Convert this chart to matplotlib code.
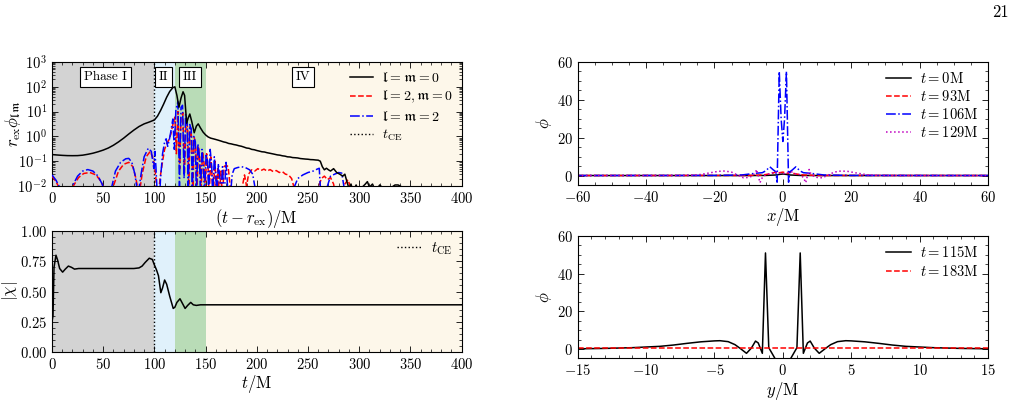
import matplotlib
matplotlib.use("Agg")
import matplotlib.pyplot as plt
from matplotlib.ticker import MultipleLocator

plt.rcParams['font.family'] = 'serif'
plt.rcParams['font.serif'] = ['cmr10']
plt.rcParams['mathtext.fontset'] = 'cm'
plt.rcParams['axes.formatter.use_mathtext'] = True
plt.rcParams['font.size'] = 10
plt.rcParams['xtick.direction'] = 'in'
plt.rcParams['ytick.direction'] = 'in'
plt.rcParams['xtick.top'] = True
plt.rcParams['ytick.right'] = True
plt.rcParams['axes.unicode_minus'] = True

# --- multipole amplitudes (top left) ---
t_00 = [0, 5, 10, 15, 20, 25, 30, 35, 40, 45, 50, 55, 60, 65, 70, 75, 80, 85, 90, 95,
        100, 103, 106, 109, 112, 115, 118, 120, 122, 124, 126, 128, 129.5, 131.5, 133, 134.6,
        136.5, 138.9, 141, 142.8, 145, 147.5, 150, 152.5, 155, 157.5, 160, 162.5, 165, 167.5,
        170, 172.5, 175, 177.5, 180, 182.5, 185, 187.5, 190, 192.5, 195, 197.5, 200, 202.5,
        205, 207.5, 210, 212.5, 215, 217.5, 220, 222.5, 225, 227.5, 230, 232.5, 235, 237.5,
        240, 242.5, 245, 247.5, 250, 252.5, 255, 257.5, 260, 262, 264, 266, 268, 270, 272,
        275, 278, 281, 284, 286, 288, 290, 292, 294, 297, 300, 303, 306, 308, 310, 313, 316,
        320, 325, 330, 335, 338, 342, 345]
phi_00 = [0.185, 0.178, 0.172, 0.168, 0.167, 0.168, 0.175, 0.19, 0.21, 0.24, 0.28, 0.34,
          0.44, 0.6, 0.85, 1.25, 1.8, 2.5, 3.2, 3.8,
          4.6, 6.5, 11, 20, 38, 65, 92, 100, 45, 15, 35, 63, 45, 3.4, 5.5, 8.0,
          4.0, 1.4, 2.6, 3.2, 2.2, 1.5, 1.15, 0.95, 0.85, 0.8, 0.75, 0.7, 0.65, 0.6,
          0.57, 0.52, 0.5, 0.47, 0.45, 0.42, 0.4, 0.37, 0.34, 0.33, 0.3, 0.29, 0.27, 0.255,
          0.24, 0.235, 0.22, 0.21, 0.2, 0.19, 0.18, 0.175, 0.165, 0.16, 0.15, 0.148, 0.14, 0.138,
          0.135, 0.128, 0.125, 0.122, 0.12, 0.116, 0.115, 0.112, 0.11, 0.1, 0.06, 0.045, 0.052, 0.045, 0.04,
          0.05, 0.035, 0.03, 0.025, 0.03, 0.015, 0.008, 0.012, 0.006, 0.011, 0.005, 0.009, 0.012, 0.015, 0.009, 0.012, 0.006,
          0.011, 0.007, 0.008, 0.011, 0.011, 0.009, 0.005]

t_20 = [0, 4, 8, 12, 18, 22, 26, 31, 37, 43, 48, 52, 56, 60, 65, 70, 75, 79, 82, 85, 88,
        92, 96, 99, 100.5, 101.5, 102.5, 104, 105.5, 108, 110, 112, 114, 116, 118, 120,
        121.5, 123, 124.7, 126, 127.8, 129.3, 131, 132.5, 133.5, 135, 136.5, 137.5, 139,
        140.5, 141.5, 143, 144.5, 145.5, 147, 148.5, 149.5, 151, 152.5, 153.5, 155, 156.5,
        157.5, 159, 160.5, 162, 163.5, 165, 166.5, 168, 170, 172, 174, 175, 178, 180, 183,
        186, 188, 190, 192, 195, 198, 201, 204, 207, 210, 213, 216, 219, 222, 225, 228, 231,
        234, 236, 238, 255, 260, 263, 266, 269, 272, 275, 277, 283, 286, 289, 292, 294]
phi_20 = [0.025, 0.015, 0.007, 0.003, 0.006, 0.012, 0.022, 0.032, 0.035, 0.028, 0.015, 0.006,
          0.003, 0.01, 0.04, 0.075, 0.09, 0.06, 0.02, 0.004, 0.03,
          0.15, 0.25, 0.12, 0.05, 0.02, 0.004, 0.004, 0.02, 0.1, 0.3, 0.5, 0.7, 1.2, 3, 6,
          0.2, 10, 0.05, 6, 9, 0.03, 5, 2, 0.01, 2.5, 0.8, 0.006, 0.9,
          0.3, 0.005, 0.4, 0.1, 0.005, 0.25, 0.08, 0.004, 0.2, 0.05, 0.003, 0.15, 0.02,
          0.003, 0.1, 0.01, 0.05, 0.003, 0.04, 0.003, 0.06, 0.07, 0.06, 0.01, 0.003, 0.003, 0.006, 0.003,
          0.01, 0.028, 0.01, 0.03, 0.045, 0.04, 0.05, 0.042, 0.048, 0.04, 0.046, 0.038, 0.042, 0.035, 0.038, 0.03, 0.028,
          0.02, 0.01, 0.003, 0.003, 0.008, 0.02, 0.025, 0.018, 0.022, 0.012, 0.004, 0.004, 0.012, 0.018, 0.008, 0.003]

t_22 = [0, 4, 8, 12, 16, 20, 25, 30, 35, 40, 45, 49, 52, 55, 58, 62, 67, 72, 75, 78, 81, 84,
        87, 90, 94, 97, 99.5, 100.5, 101.5, 103, 105, 106, 108, 110, 111.5, 113, 114.5, 116, 118,
        119.5, 121, 123, 124.5, 126, 127.5, 129, 130.5, 132, 133, 134.5, 136, 137, 138.5, 140,
        141, 142.5, 144, 145, 146.5, 148, 149, 150.5, 152, 153, 154.5, 156, 157, 158.5, 160,
        161, 162.5, 164, 165, 166.5, 168, 170, 172, 174, 176, 178, 181, 185, 189, 193, 196, 198,
        199, 235, 237, 240, 245, 250, 255, 259, 261, 262, 263, 267, 269, 272, 276, 280, 283, 285, 286, 300]
phi_22 = [0.028, 0.017, 0.008, 0.003, 0.004, 0.01, 0.025, 0.04, 0.046, 0.04, 0.025, 0.012,
          0.005, 0.003, 0.008, 0.04, 0.09, 0.125, 0.13, 0.09, 0.03, 0.004,
          0.03, 0.15, 0.33, 0.25, 0.05, 0.25, 0.06, 0.003, 0.003, 0.02, 0.2, 0.6, 0.8, 0.4, 0.7, 1.5, 5,
          0.3, 12, 25, 0.01, 15, 18, 0.02, 8, 4, 0.005, 3, 2, 0.005, 1, 0.6,
          0.004, 0.5, 0.15, 0.004, 0.3, 0.05, 0.003, 0.2, 0.1, 0.004, 0.3, 0.06, 0.003, 0.15, 0.03,
          0.003, 0.08, 0.02, 0.003, 0.06, 0.003, 0.09, 0.004, 0.003, 0.03, 0.05, 0.055, 0.06, 0.055, 0.045, 0.03, 0.01,
          0.003, 0.003, 0.01, 0.02, 0.028, 0.035, 0.04, 0.048, 0.052, 0.01, 0.003, 0.003, 0.01, 0.025, 0.03, 0.035, 0.033, 0.01, 0.003, 0.003]

# --- spin magnitude (bottom left) ---
t_chi = [0, 1, 2, 3.9, 5.5, 7.5, 10.4, 13, 16, 19, 22, 26, 30, 40, 50, 60, 70, 80, 85, 88, 91,
         95, 98, 100, 102, 104, 106.3, 108, 110, 112, 115, 118.4, 120, 122, 125, 127.5, 130,
         132.5, 135.5, 138, 141, 145, 150, 200, 300, 400]
chi = [0.25, 0.3, 0.7, 0.80, 0.76, 0.69, 0.66, 0.685, 0.71, 0.70, 0.685, 0.69, 0.69, 0.69,
       0.69, 0.69, 0.69, 0.69, 0.695, 0.71, 0.74, 0.775, 0.765, 0.72, 0.68, 0.63, 0.49, 0.53,
       0.595, 0.56, 0.46, 0.36, 0.37, 0.41, 0.44, 0.40, 0.36, 0.385, 0.41, 0.39, 0.385, 0.39,
       0.39, 0.39, 0.39, 0.39]

# phases
phase_edges = [0, 100, 120, 150, 400]
phase_colors = ['#d3d3d3', '#e0f1fb', '#b9dcb7', '#fdf7ea']
phase_names = ['Phase I', 'II', 'III', 'IV']
phase_label_x = [52, 109, 135, 245]
t_ce = 100

# --- profiles along x (top right) ---
x_t0 = [-60, -10, -5, -2, -1, 0, 1, 2, 5, 10, 60]
phi_t0 = [0, 0, 0.05, 0.3, 0.6, 0.8, 0.6, 0.3, 0.05, 0, 0]
x_t93 = [-60, -10, -6, -4, -3, -2, -1.5, -1, 0, 1, 1.5, 2, 3, 4, 6, 10, 60]
phi_t93 = [0, 0.05, 0.3, 0.8, 1.2, 2.0, 1.0, 1.5, 1.8, 1.5, 1.0, 2.0, 1.2, 0.8, 0.3, 0.05, 0]
x_t106 = [-60, -20, -12, -8, -6, -5, -3.8, -2.8, -2.05, -1.67, -1.05, -0.5, 0, 0.5, 1.05,
          1.67, 2.05, 2.8, 3.8, 5, 6, 8, 12, 20, 60]
phi_t106 = [0, 0.05, 0.3, 1.2, 1.5, 2.5, 4.6, 3.0, 2.0, -3.5, 55, 30, 18, 30, 55,
            -3.5, 2.0, 3.0, 4.6, 2.5, 1.5, 1.2, 0.3, 0.05, 0]
x_t129 = [-60, -30, -25, -22, -19, -17, -15, -13, -11.5, -10, -9, -8, -7.7, -7.2, -6.7, -6,
          -5, -3.5, -2.5, -1, 0, 1, 2.5, 3.5, 5, 6, 6.7, 7.2, 7.7, 8, 9, 10, 11.5, 13, 15, 17,
          19, 22, 25, 30, 60]
phi_t129 = [0, 0.05, 0.3, 1.2, 2.2, 2.4, 1.8, 0, -1.2, -1.0, -0.3, 1.5, 3.2, 0, -3.8, -1,
            0.5, 1.0, 2.0, 1.2, 1.0, 1.2, 2.0, 1.0, 0.5, -1, -3.8, 0, 3.2, 1.5, -0.3, -1.0,
            -1.2, 0, 1.8, 2.4, 2.2, 1.2, 0.3, 0.05, 0]

# --- profiles along y (bottom right) ---
y_t115 = [-15, -13, -11, -9, -8, -7, -6, -5, -4.6, -4, -3.5, -3.1, -2.66, -2.3, -2.0, -1.8,
          -1.5, -1.27, -1.03, -0.5, 0, 0.5, 1.03, 1.27, 1.5, 1.8, 2.0, 2.3, 2.66, 3.1, 3.5, 4,
          4.6, 5, 6, 7, 8, 9, 11, 13, 15]
phi_t115 = [0.1, 0.3, 0.7, 1.4, 2.1, 3.0, 3.8, 4.3, 4.4, 3.9, 2.3, 0.2, -2.3, 0.5, 4.2, 3.2,
            -2.3, 51, 0.7, -6, -9, -6, 0.7, 51, -2.3, 3.2, 4.2, 0.5, -2.3, 0.2, 2.3, 3.9,
            4.4, 4.3, 3.8, 3.0, 2.1, 1.4, 0.7, 0.3, 0.1]
y_t183 = [-15, 15]
phi_t183 = [0.3, 0.3]

fig = plt.figure(figsize=(10.19, 4.0), dpi=100)

ax1 = fig.add_axes([0.051, 0.535, 0.402, 0.31])
ax2 = fig.add_axes([0.051, 0.12, 0.402, 0.3025])
ax3 = fig.add_axes([0.567, 0.5375, 0.4025, 0.3075])
ax4 = fig.add_axes([0.567, 0.104, 0.4025, 0.306])

for ax in (ax1, ax2):
    for i in range(4):
        ax.axvspan(phase_edges[i], phase_edges[i + 1], color=phase_colors[i], lw=0, zorder=0)

leg_kw = dict(loc='upper right', frameon=False, handlelength=1.7,
              handletextpad=0.6, borderaxespad=0.25)

# top left
ax1.plot(t_00, phi_00, color='k', lw=1.1, label=r'$\mathfrak{l}=\mathfrak{m}=0$', zorder=4)
ax1.plot(t_20, phi_20, color='r', ls='--', lw=1.1, label=r'$\mathfrak{l}=2,\mathfrak{m}=0$', zorder=3)
ax1.plot(t_22, phi_22, color='b', ls='-.', lw=1.1, label=r'$\mathfrak{l}=\mathfrak{m}=2$', zorder=3)
ax1.axvline(t_ce, color='k', ls=':', lw=1, label=r'$t_{\rm CE}$', zorder=2)
ax1.set_yscale('log')
ax1.set_xlim(0, 400)
ax1.set_ylim(1e-2, 1e3)
ax1.xaxis.set_major_locator(MultipleLocator(50))
ax1.xaxis.set_minor_locator(MultipleLocator(10))
ax1.set_xlabel(r'$(t-r_{\rm ex})/\mathrm{M}$', fontsize=12, labelpad=1)
ax1.set_ylabel(r'$r_{\rm ex}\phi_{\mathfrak{lm}}$', fontsize=12)
ax1.yaxis.set_label_coords(-0.071, 0.5)
for name, xp in zip(phase_names, phase_label_x):
    ax1.text(xp, 0.88, name, transform=ax1.get_xaxis_transform(), ha='center', va='center',
             fontsize=9.5, bbox=dict(boxstyle='square,pad=0.3', fc='white', ec='k', lw=0.8), zorder=5)
ax1.legend(fontsize=10, labelspacing=0.3, **leg_kw)

# bottom left
ax2.plot(t_chi, chi, color='k', lw=1.1)
ax2.axvline(t_ce, color='k', ls=':', lw=1, label=r'$t_{\rm CE}$')
ax2.set_xlim(0, 400)
ax2.set_ylim(0, 1)
ax2.xaxis.set_major_locator(MultipleLocator(50))
ax2.xaxis.set_minor_locator(MultipleLocator(10))
ax2.yaxis.set_major_locator(MultipleLocator(0.25))
ax2.yaxis.set_minor_locator(MultipleLocator(0.05))
ax2.set_xlabel(r'$t/\mathrm{M}$', fontsize=12, labelpad=1)
ax2.set_ylabel(r'$|\chi|$', fontsize=12)
ax2.yaxis.set_label_coords(-0.078, 0.5)
ax2.legend(fontsize=10.5, **leg_kw)

# top right
ax3.plot(x_t0, phi_t0, color='k', lw=1.1, label=r'$t=0\mathrm{M}$')
ax3.plot(x_t93, phi_t93, color='r', ls='--', lw=1.1, label=r'$t=93\mathrm{M}$')
ax3.plot(x_t106, phi_t106, color='b', ls='-.', lw=1.1, label=r'$t=106\mathrm{M}$')
ax3.plot(x_t129, phi_t129, color='m', ls=':', lw=1.1, label=r'$t=129\mathrm{M}$')
ax3.set_xlim(-60, 60)
ax3.set_ylim(-5, 60)
ax3.xaxis.set_major_locator(MultipleLocator(20))
ax3.xaxis.set_minor_locator(MultipleLocator(5))
ax3.yaxis.set_major_locator(MultipleLocator(20))
ax3.yaxis.set_minor_locator(MultipleLocator(5))
ax3.set_xlabel(r'$x/\mathrm{M}$', fontsize=12, labelpad=1)
ax3.set_ylabel(r'$\phi$', fontsize=12, labelpad=2)
ax3.legend(fontsize=10.5, labelspacing=0.2, **leg_kw)

# bottom right
ax4.plot(y_t115, phi_t115, color='k', lw=1.1, label=r'$t=115\mathrm{M}$')
ax4.plot(y_t183, phi_t183, color='r', ls='--', lw=1.1, label=r'$t=183\mathrm{M}$')
ax4.set_xlim(-15, 15)
ax4.set_ylim(-5, 60)
ax4.xaxis.set_major_locator(MultipleLocator(5))
ax4.xaxis.set_minor_locator(MultipleLocator(1))
ax4.yaxis.set_major_locator(MultipleLocator(20))
ax4.yaxis.set_minor_locator(MultipleLocator(5))
ax4.set_xlabel(r'$y/\mathrm{M}$', fontsize=12, labelpad=1)
ax4.set_ylabel(r'$\phi$', fontsize=12, labelpad=2)
ax4.legend(fontsize=10.5, labelspacing=0.25, **leg_kw)

for ax in (ax1, ax2, ax3, ax4):
    ax.tick_params(which='major', length=4, width=0.6, labelsize=10.5)
    ax.tick_params(which='minor', length=2, width=0.5)
    for s in ax.spines.values():
        s.set_linewidth(0.8)

fig.text(0.982, 0.97, '21', ha='center', va='center', fontsize=12)

plt.savefig('out.png', dpi=100)
